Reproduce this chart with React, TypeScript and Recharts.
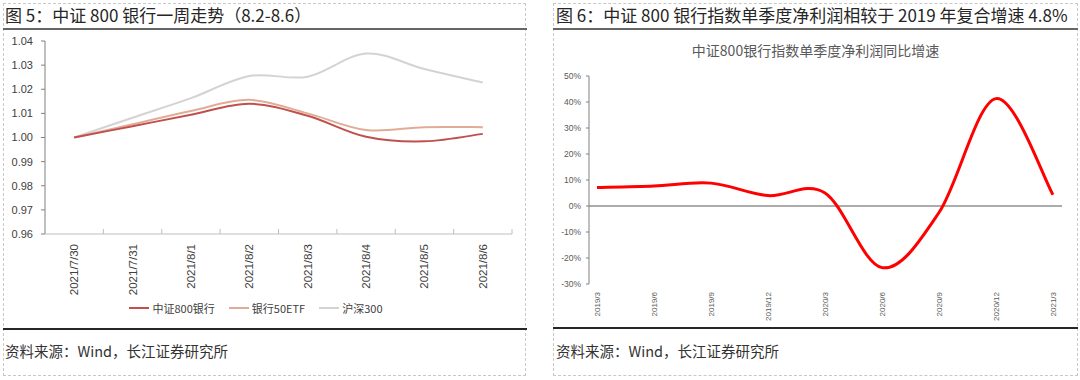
import React from "react";
import { Legend, Line, LineChart, ReferenceLine, XAxis, YAxis } from "recharts";

// week trend (fig 5)
const weekDates = ["2021/7/30", "2021/7/31", "2021/8/1", "2021/8/2", "2021/8/3", "2021/8/4", "2021/8/5", "2021/8/6"];
const csi800Bank = [1.0, 1.0047, 1.0094, 1.014, 1.009, 1.0003, 0.9984, 1.0015];
const bank50Etf = [1.0, 1.0055, 1.011, 1.0156, 1.01, 1.0031, 1.0043, 1.0043];
const hs300 = [1.0, 1.0082, 1.0163, 1.0255, 1.0252, 1.0348, 1.0284, 1.0228];
const weekTicks = [0.96, 0.97, 0.98, 0.99, 1.0, 1.01, 1.02, 1.03, 1.04];

// quarterly profit growth (fig 6)
const quarters = ["2019/3", "2019/6", "2019/9", "2019/12", "2020/3", "2020/6", "2020/9", "2020/12", "2021/3"];
const profitGrowth = [0.071, 0.077, 0.088, 0.04, 0.05, -0.237, -0.025, 0.413, 0.043];
const growthTicks = [-0.3, -0.2, -0.1, 0, 0.1, 0.2, 0.3, 0.4, 0.5];

// each day sits in the middle of its slot, slot edges get the tick marks
const weekData = weekDates.map((d, i) => ({
  slot: i + 0.5,
  date: d,
  bank: csi800Bank[i],
  etf: bank50Etf[i],
  hs: hs300[i],
}));
const slotTicks = weekDates.flatMap((_, i) => [i, i + 0.5]).concat(weekDates.length);
const quarterData = quarters.map((q, i) => ({ q, v: profitGrowth[i] }));

const CJK = "'Noto Sans CJK SC', 'Noto Sans', sans-serif";
const LATIN = "'Liberation Sans', Arial, sans-serif";

// excel-ish smoothing (catmull-rom as cubic beziers)
function smoothCurve(context: any) {
  let pts: number[][] = [];
  return {
    areaStart() {},
    areaEnd() {},
    lineStart() {
      pts = [];
    },
    point(x: number, y: number) {
      pts.push([+x, +y]);
    },
    lineEnd() {
      const n = pts.length;
      if (!n) return;
      context.moveTo(pts[0][0], pts[0][1]);
      for (let i = 0; i < n - 1; i++) {
        const p0 = pts[i - 1] || pts[i];
        const p1 = pts[i];
        const p2 = pts[i + 1];
        const p3 = pts[i + 2] || p2;
        context.bezierCurveTo(
          p1[0] + (p2[0] - p0[0]) / 6,
          p1[1] + (p2[1] - p0[1]) / 6,
          p2[0] - (p3[0] - p1[0]) / 6,
          p2[1] - (p3[1] - p1[1]) / 6,
          p2[0],
          p2[1]
        );
      }
    },
  };
}

const RotTick = (props: any) => {
  const { x, y, payload, fontSize, fill } = props;
  return (
    <text
      x={x}
      y={y}
      transform={`rotate(-90 ${x} ${y})`}
      textAnchor="end"
      dominantBaseline="central"
      fontSize={fontSize}
      fill={fill}
      fontFamily={LATIN}
    >
      {payload.value}
    </text>
  );
};

// integer values -> short inward tick mark at slot edge, half values -> date label
const SlotTick = (props: any) => {
  const { x, y, payload } = props;
  const v = payload.value as number;
  if (Number.isInteger(v)) {
    return <line x1={x} x2={x} y1={y - 10} y2={y - 15} stroke="#bfbfbf" />;
  }
  const label = weekDates[Math.floor(v)];
  return (
    <text
      x={x}
      y={y}
      transform={`rotate(-90 ${x} ${y})`}
      textAnchor="end"
      dominantBaseline="central"
      fontSize={11.5}
      fill="#404040"
      fontFamily={LATIN}
    >
      {label}
    </text>
  );
};

const weekLegend = [
  { label: "中证800银行", color: "#c0504d" },
  { label: "银行50ETF", color: "#e0ac98" },
  { label: "沪深300", color: "#d3d3d3" },
];

const WeekLegend = () => (
  <div style={{ display: "flex", justifyContent: "center", gap: 14, fontFamily: CJK, fontSize: 11, color: "#404040" }}>
    {weekLegend.map((l) => (
      <div key={l.label} style={{ display: "flex", alignItems: "center", gap: 3 }}>
        <span style={{ display: "inline-block", width: 20, height: 2, background: l.color }} />
        <span>{l.label}</span>
      </div>
    ))}
  </div>
);

const dashed = "1px dashed #c8c8c8";

export default function App() {
  return (
    <div style={{ position: "absolute", left: 0, top: 0, width: 1080, height: 380, background: "#fff", overflow: "hidden" }}>
      {/* panel frames */}
      <div style={{ position: "absolute", left: 3, top: 3, width: 523, height: 373, border: dashed, boxSizing: "border-box" }} />
      <div style={{ position: "absolute", left: 553, top: 3, width: 525, height: 373, border: dashed, boxSizing: "border-box" }} />

      {/* titles */}
      <div style={{ position: "absolute", left: 5, top: 5, fontFamily: CJK, fontSize: 17, color: "#262626", lineHeight: "20px" }}>
        图 5：中证 800 银行一周走势（8.2-8.6）
      </div>
      <div style={{ position: "absolute", left: 3, top: 28, width: 524, height: 2, background: "#666" }} />
      <div style={{ position: "absolute", left: 556, top: 5, fontFamily: CJK, fontSize: 17, color: "#262626", lineHeight: "20px" }}>
        图 6：中证 800 银行指数单季度净利润相较于 2019 年复合增速 4.8%
      </div>
      <div style={{ position: "absolute", left: 553, top: 28, width: 525, height: 2, background: "#666" }} />

      {/* left chart */}
      <div style={{ position: "absolute", left: 0, top: 30 }}>
        <LineChart width={525} height={300} data={weekData} margin={{ top: 11, right: 13, bottom: 10, left: 0 }}>
          <XAxis
            dataKey="slot"
            type="number"
            domain={[0, weekDates.length]}
            ticks={slotTicks}
            interval={0}
            axisLine={{ stroke: "#bfbfbf" }}
            tickLine={false}
            tickSize={0}
            tickMargin={10}
            height={66}
            tick={<SlotTick />}
          />
          <YAxis
            width={45}
            domain={[0.96, 1.04]}
            ticks={weekTicks}
            tickFormatter={(v: number) => v.toFixed(2)}
            axisLine={{ stroke: "#808080" }}
            tickLine={{ stroke: "#808080" }}
            tickSize={4}
            tickMargin={8}
            tick={{ fill: "#404040", fontSize: 11, fontFamily: LATIN }}
          />
          <Legend verticalAlign="bottom" height={20} content={<WeekLegend />} />
          <Line dataKey="hs" stroke="#d3d3d3" strokeWidth={2} dot={false} type={smoothCurve as any} isAnimationActive={false} />
          <Line dataKey="etf" stroke="#e0ac98" strokeWidth={2} dot={false} type={smoothCurve as any} isAnimationActive={false} />
          <Line dataKey="bank" stroke="#c0504d" strokeWidth={2} dot={false} type={smoothCurve as any} isAnimationActive={false} />
        </LineChart>
      </div>
      <div style={{ position: "absolute", left: 3, top: 328, width: 524, height: 2, background: "#262626" }} />
      <div style={{ position: "absolute", left: 5, top: 340, fontFamily: CJK, fontSize: 14.5, color: "#333", lineHeight: "22px" }}>
        资料来源：Wind，长江证券研究所
      </div>

      {/* right chart */}
      <div style={{ position: "absolute", left: 553, top: 40, width: 525, textAlign: "center", fontFamily: CJK, fontSize: 14, color: "#595959", lineHeight: "20px" }}>
        中证800银行指数单季度净利润同比增速
      </div>
      <div style={{ position: "absolute", left: 553, top: 30 }}>
        <LineChart width={527} height={300} data={quarterData} margin={{ top: 46, right: 18, bottom: 6, left: 0 }}>
          <XAxis
            dataKey="q"
            interval={0}
            padding={{ left: 8, right: 9 }}
            axisLine={false}
            tickLine={false}
            tickSize={0}
            tickMargin={8}
            height={40}
            tick={<RotTick fontSize={8} fill="#595959" />}
          />
          <YAxis
            width={36}
            domain={[-0.3, 0.5]}
            ticks={growthTicks}
            tickFormatter={(v: number) => `${Math.round(v * 100)}%`}
            axisLine={{ stroke: "#808080" }}
            tickLine={{ stroke: "#808080" }}
            tickSize={3}
            tickMargin={5}
            tick={{ fill: "#595959", fontSize: 8.5, fontFamily: LATIN }}
          />
          <ReferenceLine y={0} stroke="#595959" strokeWidth={1} />
          <Line dataKey="v" stroke="#ff0000" strokeWidth={3} dot={false} type={smoothCurve as any} isAnimationActive={false} />
        </LineChart>
      </div>
      <div style={{ position: "absolute", left: 553, top: 327, width: 525, height: 2, background: "#262626" }} />
      <div style={{ position: "absolute", left: 556, top: 340, fontFamily: CJK, fontSize: 14.5, color: "#333", lineHeight: "22px" }}>
        资料来源：Wind，长江证券研究所
      </div>
    </div>
  );
}
